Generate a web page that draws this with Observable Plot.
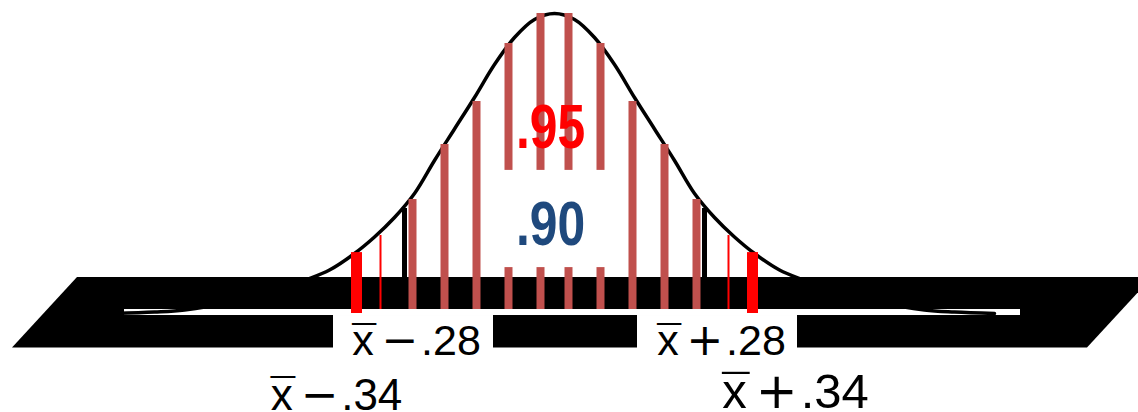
<!DOCTYPE html>
<html>
<head>
<meta charset="utf-8">
<script src="https://cdn.jsdelivr.net/npm/d3@7"></script>
<script src="https://cdn.jsdelivr.net/npm/@observablehq/plot@0.6"></script>
<style>
  html, body { margin: 0; padding: 0; background: #fff; }
  #chart svg { display: block; }
</style>
</head>
<body>
<div id="chart"></div>
<script>
// Sampling-distribution curve: position (standard-error units from x̄) and height relative to the peak
const curveX = [-4.4, -4.0, -3.7, -3.2, -2.8, -2.5, -2.25, -2.0, -1.8, -1.6, -1.4, -1.2, -1.0, -0.8, -0.6, -0.4, -0.2, 0,
                 0.2, 0.4, 0.6, 0.8, 1.0, 1.2, 1.4, 1.6, 1.8, 2.0, 2.25, 2.5, 2.8, 3.2, 3.7, 4.0, 4.4];
const curveY = [0, 0.005, 0.012, 0.04, 0.072, 0.11, 0.145, 0.2, 0.255, 0.32, 0.4, 0.51, 0.615, 0.72, 0.83, 0.92, 0.98, 1,
                0.98, 0.92, 0.83, 0.72, 0.615, 0.51, 0.4, 0.32, 0.255, 0.2, 0.145, 0.11, 0.072, 0.04, 0.012, 0.005, 0];

// Shaded strips under the curve (.90 region)
const stripX = [-1.42, -1.10, -0.78, -0.46, -0.14, 0.14, 0.46, 0.78, 1.10, 1.42];
const stripY = [0.38, 0.563, 0.707, 0.90, 1.0, 1.0, 0.90, 0.707, 0.563, 0.38];

// Interval bounds: .90 (black), inner red ticks, .95 (thick red)
const bound90X = [-1.50, 1.50];
const bound90Y = [0.35, 0.35];
const tickX = [-1.74, 1.74];
const tickY = [0.26, 0.26];
const bound95X = [-1.98, 1.98];
const bound95Y = [0.203, 0.203];

// Confidence levels and bound labels
const levels = [".95", ".90"];
const boundLabels = ["x\u0304 \u2212 .28", "x\u0304 + .28", "x\u0304 \u2212 .34", "x\u0304 + .34"];

const pts = (xs, ys) => xs.map((x, i) => ({x, y: ys[i]}));
const curve = pts(curveX, curveY);
const strips = pts(stripX, stripY);
const b90 = pts(bound90X, bound90Y);
const ticks = pts(tickX, tickY);
const b95 = pts(bound95X, bound95Y);

// Geometry of the black slanted base
const bandTop = 0.12, bandBottom = -0.115;
const stripTop = 0.0133, stripBottom = -0.0067;
const base = [
  {y: bandTop, x1: -4.77, x2: 5.98},
  {y: bandBottom, x1: -5.42, x2: 5.33}
];

const sans = "'Liberation Sans', Arial, Helvetica, sans-serif";

const chart = Plot.plot({
  width: 1138,
  height: 412,
  margin: 0,
  x: {domain: [-5.54, 5.84], axis: null},
  y: {domain: [-0.33, 1.0433], axis: null},
  style: {background: "#fff"},
  marks: [
    // black base
    Plot.areaX(base, {y: "y", x1: "x1", x2: "x2", fill: "black"}),
    // white gap through the base where the curve's tails run
    Plot.rect([{}], {x1: -4.30, x2: 4.66, y1: stripBottom, y2: stripTop, fill: "white"}),
    // density curve
    Plot.line(curve, {x: "x", y: "y", curve: "catmull-rom", stroke: "black", strokeWidth: 3.5}),
    // strips
    Plot.ruleX(strips, {x: "x", y1: stripTop, y2: "y", stroke: "#C0504D", strokeWidth: 8}),
    // .90 bounds
    Plot.ruleX(b90, {x: "x", y1: stripTop, y2: "y", stroke: "black", strokeWidth: 5}),
    Plot.ruleX(ticks, {x: "x", y1: stripTop, y2: "y", stroke: "#FF0000", strokeWidth: 2}),
    // .95 bounds
    Plot.ruleX(b95, {x: "x", y1: 0, y2: "y", stroke: "#FF0000", strokeWidth: 11}),
    // white boxes behind the .28 labels
    Plot.rect([{}], {x1: -2.21, x2: -0.61, y1: bandBottom - 0.01, y2: stripBottom, fill: "white"}),
    Plot.rect([{}], {x1: 0.83, x2: 2.43, y1: bandBottom - 0.01, y2: stripBottom, fill: "white"}),
    // clear space around the .90 label
    Plot.rect([{}], {x1: -0.56, x2: 0.56, y1: 0.153, y2: 0.477, fill: "white"}),
    // confidence levels
    Plot.text([levels[0]], {x: 0, y: 0.55, text: d => d, dx: -4, lineAnchor: "bottom",
      fontFamily: sans, fontWeight: "bold", fontSize: 63, fill: "#FF0000"}),
    Plot.text([levels[1]], {x: 0, y: 0.227, text: d => d, dx: -4, lineAnchor: "bottom",
      fontFamily: sans, fontWeight: "bold", fontSize: 63, fill: "#1F497D"}),
    // bound labels
    Plot.text([boundLabels[0]], {x: bound90X[0], y: -0.14, text: d => d, dx: 12, lineAnchor: "bottom",
      fontFamily: sans, fontSize: 43, fill: "black"}),
    Plot.text([boundLabels[1]], {x: bound90X[1], y: -0.14, text: d => d, dx: 17, lineAnchor: "bottom",
      fontFamily: sans, fontSize: 43, fill: "black"}),
    Plot.text([boundLabels[2]], {x: bound95X[0], y: -0.322, text: d => d, dx: -20, lineAnchor: "bottom",
      fontFamily: sans, fontSize: 44, fill: "black"}),
    Plot.text([boundLabels[3]], {x: bound95X[1], y: -0.316, text: d => d, dx: 43, lineAnchor: "bottom",
      fontFamily: sans, fontSize: 49, fill: "black"})
  ]
});

document.getElementById("chart").appendChild(chart);

// Condensed look for the confidence levels: squeeze each label about its own centre
function squeeze(textEl, s) {
  const g = textEl.parentNode;
  const bb = g.getBBox();
  const cx = bb.x + bb.width / 2;
  const prev = g.getAttribute("transform") || "";
  g.setAttribute("transform", `${prev} translate(${cx},0) scale(${s},1) translate(${-cx},0)`);
}

// Bound labels: x with a full-width bar, a wide operator, then the margin
const NS = "http://www.w3.org/2000/svg";
function typesetBound(t) {
  const m = t.textContent.match(/^x\u0304 (\S+) (.+)$/);
  if (!m) return;
  const fs = parseFloat(getComputedStyle(t).fontSize);
  t.textContent = "";
  const add = (s, attrs = {}) => {
    const e = document.createElementNS(NS, "tspan");
    e.textContent = s;
    for (const k in attrs) e.setAttribute(k, attrs[k]);
    t.appendChild(e);
  };
  add("x");
  add("\u00AF", {dx: -0.5 * fs});
  add(m[1], {dx: 0.13 * fs, "font-family": "'DejaVu Sans', sans-serif", "font-size": 1.02 * fs});
  add(m[2], {dx: 0.065 * fs});
}

for (const t of chart.querySelectorAll("text")) {
  if (levels.includes(t.textContent)) squeeze(t, 0.79);
  else if (boundLabels.includes(t.textContent)) typesetBound(t);
}
</script>
</body>
</html>
